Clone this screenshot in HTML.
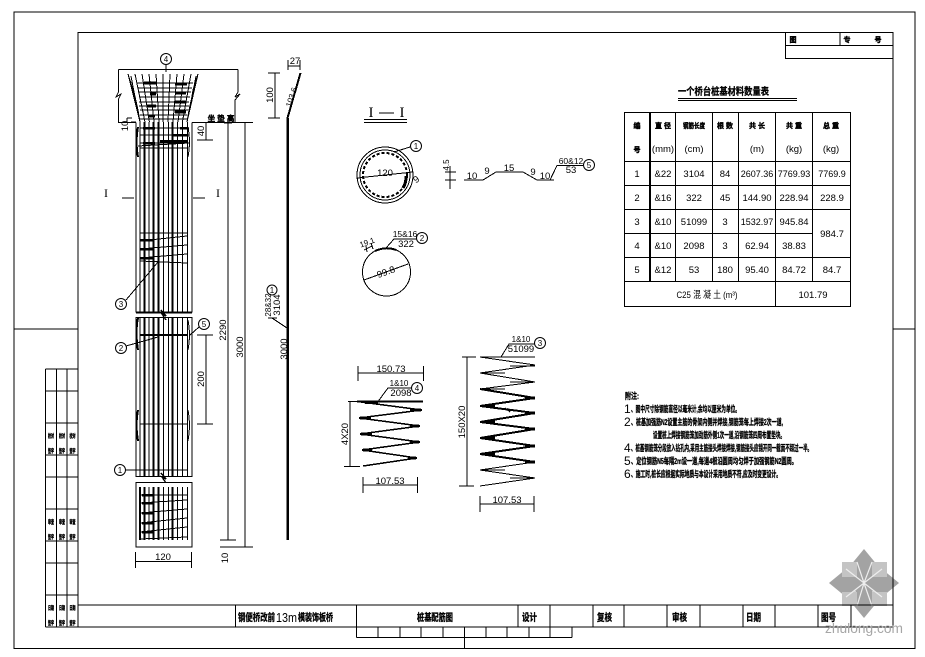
<!DOCTYPE html>
<html><head><meta charset="utf-8"><style>
html,body{margin:0;padding:0;background:#fff}
svg{display:block}
text{font-family:"Liberation Sans","Noto Sans CJK SC",sans-serif;fill:#000}
.d{font-size:9.500px;text-anchor:middle}
.h{font-size:7px;font-weight:bold;text-anchor:middle;stroke:#000;stroke-width:.4}
.n{font-size:8.500px;font-weight:bold;stroke:#000;stroke-width:.35}
.k{font-size:12px}
.c{font-size:8px;text-anchor:middle}
.s{font-size:5.500px;font-weight:bold;stroke:#000;stroke-width:.4}
</style></head><body>
<svg width="925" height="657" viewBox="0 0 925 657" xmlns="http://www.w3.org/2000/svg">
<rect width="925" height="657" fill="#fff"/>
<!-- watermark -->
<g>
<polygon points="864,549 878,566 864,590 850,566" fill="#a3a3a3"/>
<polygon points="864,618 878,601 864,577 850,601" fill="#a3a3a3"/>
<polygon points="829,583 846,569 868,583 846,597" fill="#a3a3a3"/>
<polygon points="899,583 882,569 860,583 882,597" fill="#a3a3a3"/>
<polygon points="842,562 857,562 857,577 842,577" fill="#c4c4c4"/>
<polygon points="872,562 887,562 887,577 872,577" fill="#c4c4c4"/>
<polygon points="842,592 857,592 857,606 842,606" fill="#c4c4c4"/>
<polygon points="872,592 887,592 887,606 872,606" fill="#c4c4c4"/>
<path d="M846 569L864 583L882 569M846 597L864 583L882 597M857 562L864 583L872 562M857 606L864 583L872 606" stroke="#eee" stroke-width="1.2" fill="none"/>
</g>
<g fill="none" stroke="#000" stroke-width="1" shape-rendering="crispEdges">
<!-- frames -->
<rect x="14" y="12" width="901" height="636.5"/>
<rect x="78" y="32.5" width="815" height="594.5"/>
<path d="M14 329H78M893 329H915"/>
<path d="M785.5 32.5V58.5H893M785.5 45.5H893M840 32.5V45.5"/>
<!-- left stamp -->
<path d="M45.5 369H78M45.5 391H78M45.5 423H78M45.5 455H78M45.5 477H78M45.5 509H78M45.5 541H78M45.5 563H78M45.5 595H78M45.5 627H78M45.5 369V627M56.5 369V627M67 369V627"/>
<!-- title block -->
<path d="M78 605H893"/>
<path d="M235.500 605V627M356.500 605V637.500M518 605V627M550 605V627M593 605V627M624 605V627M667 605V627M700 605V627M743 605V627M775 605V627M818 605V627M851 605V627"/>
<path d="M356.500 637.500H572M378 627V637.500M400 627V637.500M421 627V637.500M443 627V637.500M464.500 627V649M486 627V637.500M507 627V637.500M529 627V637.500M550 627V637.500M572 627V637.500"/>
<!-- column outline -->
<path d="M118.500 69.500H238M166 64V72"/>
<path d="M118.500 69.500V92L116 97L121 94L118.500 99V122.500H136M238 69.500V92L235 97L240 94L235 100V122.500M192 122.500H253"/>
<path d="M136 122.500V312.500M192 122.500V312.500M136 317.500H192V476.500H136ZM136 482.500H192V547H136Z"/>
<path d="M136 312.500H192" stroke-width="2"/>
<!-- flare -->
<path d="M128 74L140 122M135 74L145 122M142 74L149.400 122M149 74L154 122M156 74L159 122M163 74V122M170 74L168 122M177 74L173 122M184 74L178 122M191 74L182.400 122M198 74L187 122"/>
<path d="M137 83H193M138 88H192M138 92H191M139 97H190M139 102H189M139 106H189M140 110H188M140 115H187M140 119H187"/>
<path d="M131 76L134 92L138 110L140 122M196 76L193 92L189 110L187 122M128 74L133 90L137 108M198 74L193 90L190 108"/>
<path d="M144 83H156M175 84H187M175 93H186M175 102H186M147 106H156M148 116H155M175 112H186M150 94H156" stroke-width="3"/>
<!-- vertical bars -->
<path d="M140 122V312M149 122V312M163.300 122V312M168.300 122V312M177.300 122V312M182.700 122V312M187.300 122V312M140 317V476M149 317V476M163.300 317V476M168.300 317V476M177.300 317V476M182.700 317V476M187.300 317V476M149 487V540M163.300 487V540M168.300 487V540M177.300 487V540M182.700 487V540M187.300 487V540"/>
<path d="M144.300 122V312M153.300 122V312M158.300 122V312M172.700 122V312M144.300 317V476M153.300 317V476M158.300 317V476M172.700 317V476M140 487V540M144.300 487V540M153.300 487V540M158.300 487V540M172.700 487V540" stroke-width="2"/>
<!-- hoops -->
<path d="M140 128H189M140 135H189M140 143H190M138 146L189 143M140 148H187M140 233H187M140 241L187 236M140 249L187 245M140 258L187 254M140 261L187 263"/>
<path d="M143 128H155M180 128H187M172 135H187M143 143H155M160 141H187M140 240H153M140 249H153M140 258H153" stroke-width="2.500"/>
<path d="M140 335H187" stroke-width="2"/>
<path d="M140 424H187M140 470H187"/>
<path d="M140 495H187M140 503L187 500M140 513L187 509M140 523L187 518M140 532L187 527M140 539L187 537"/>
<path d="M142 495H153M142 503H153M142 513H153M142 523H153M142 532H153" stroke-width="2.500"/>
<!-- bulges -->
<path d="M138 127Q135 142 138 157M138 318Q135 332 138 350M138 410Q135 425 138 441" stroke-width="2"/>
<path d="M188 127Q191 142 188 157M188 320Q191 335 188 350M188 410Q191 425 188 441"/>
<!-- breaks -->
<path d="M161 310L166 316L162 314L166 320M161 473L166 479L162 477L166 483" stroke-width="1.500"/>
<!-- dims -->
<path d="M228 123V540M245 123V547M220 540H236M220 547H253M224 123H232"/>
<path d="M206 123V140M197 140H213M206 335V424M197 335H213M197 424H213"/>
<path d="M135.500 552V568M191.500 552V568M135.500 561.500H191.500"/>
<path d="M127 118V122M131 122H136M127 118H132"/>
<path d="M122 198H134M193 198H205"/>
<!-- leaders -->
<path d="M126 300L158 262M126 346L158 337M126 470H187M199 327L190 335"/>
<!-- side view -->
<path d="M287.500 118V540" stroke-width="2.500"/>
<path d="M287.500 118L300.500 73" stroke-width="2"/>
<path d="M275 73V118M268 73H280M268 118H280M288 66H300M288 60V70M300 60V70"/>
<path d="M272 318L287 328"/>
<path d="M268 318H277"/>
<!-- I-I -->
<path d="M364 119.500H407M364 122.500H407"/>
<circle cx="385" cy="175" r="28"/>
<circle cx="385" cy="175" r="25"/>
<circle cx="385" cy="175" r="22" stroke-dasharray="3 2" stroke-width="2"/>
<path d="M357 178L413 172M394 152L410 147"/>
<path d="M406 176A22 22 0 0 1 403 188" stroke-width="3"/>
<!-- bent bar -->
<path d="M464 180H483L496 172H523L537 180H554M550 180L557 165.500H583"/>
<path d="M450 166V189M445 172H456M445 180H456"/>
<!-- circle 2 -->
<circle cx="386.500" cy="272" r="24"/>
<path d="M364 280L408 264M386 248L394 239H417M364 250L372 246M366 246L367 252M371 243L373 249"/>
<path d="M375 251Q386 246 396 250" stroke-width="2"/>
<!-- coil 4 -->
<path d="M357 401.500H423" stroke-width="2"/>
<polyline points="357,401.500 422,410 359,418 420,426 360,434 420,442 362,450 417,458 363,466" stroke-width="1.500"/>
<path d="M365 402.500H378M410 410H421M360 418H371M410 426H419M361 434H372M410 442H419M363 450H372M408 458H416" stroke-width="3"/>
<path d="M348 401.500H358M350 401.500V466.500M344 466.500H360"/>
<path d="M358 373H423.500M358 366V381M423.500 366V381M363 485H417.500M363 477V493M417.500 477V493M378 401.500L388 388H411"/>
<!-- coil 3 -->
<polyline points="480,357 535,365 480,373 535,382 480,389"/>
<polyline points="480,389 535,398 480,406 535,413 480,422 535,429 480,438 535,446 480,454 535,462" stroke-width="2"/>
<polyline points="535,462 480,470 535,478 480,486"/>
<path d="M480 357H535M510 366H535M510 382H535M480 373H505M480 389H505M510 478H535M480 470H505"/>
<path d="M485 406H495M525 398H535M525 413H535M485 422H495M525 429H535M485 438H495M525 446H535M485 454H495M525 462H535" stroke-width="3"/>
<path d="M505 408L510 412L508 409L514 411"/>
<path d="M462 357H476M467 357V486M459 486H474M480 504H534M480 496V512M534 496V512M501 357L509 344H538"/>
<!-- table -->
<rect x="624.500" y="112.500" width="226" height="194"/>
<path d="M624.500 161.500H850.500M624.500 185.500H850.500M624.500 209.500H850.500M624.500 233.500H812M624.500 257.500H850.500M624.500 281.500H850.500"/>
<path d="M675.500 112.500V281.500M712.500 112.500V281.500M738.500 112.500V281.500M775.500 112.500V306.500M812.500 112.500V281.500"/>
<path d="M650 112.500V281.500" stroke-width="2"/>
<path d="M678 98.500H797M678 100.500H797"/>
</g>
<!-- circled labels -->
<g fill="#fff" stroke="#000" stroke-width="1">
<circle cx="166" cy="59" r="5.500"/><circle cx="121" cy="304" r="5.500"/><circle cx="121" cy="348" r="5.500"/><circle cx="204" cy="324" r="5.500"/><circle cx="120" cy="470" r="5.500"/>
<circle cx="272" cy="290" r="5"/><circle cx="416" cy="146" r="5.500"/><circle cx="589" cy="165" r="5.500"/><circle cx="422" cy="238" r="5.500"/><circle cx="417" cy="388" r="5.500"/><circle cx="540" cy="343" r="5.500"/>
</g>
<g>
<text class="c" x="166" y="62">4</text><text class="c" x="121" y="307">3</text><text class="c" x="121" y="351">2</text><text class="c" x="204" y="327">5</text><text class="c" x="120" y="473">1</text>
<text class="c" x="272" y="293">1</text><text class="c" x="416" y="149">1</text><text class="c" x="589" y="168">5</text><text class="c" x="422" y="241">2</text><text class="c" x="417" y="391">4</text><text class="c" x="540" y="346">3</text>
</g>
<!-- dims text -->
<g>
<text class="d" x="163" y="560">120</text>
<text class="d" style="font-family:'Liberation Serif',serif;font-size:12px" x="106" y="197">I</text>
<text class="d" style="font-family:'Liberation Serif',serif;font-size:12px" x="218" y="197">I</text>
<text class="d" transform="translate(128,126) rotate(-90)">10</text>
<text class="d" transform="translate(204,131) rotate(-90)">40</text>
<text class="d" transform="translate(204,379) rotate(-90)">200</text>
<text class="d" transform="translate(226,330) rotate(-90)">2290</text>
<text class="d" transform="translate(243,347) rotate(-90)">3000</text>
<text class="d" transform="translate(228,558) rotate(-90)">10</text>
<text class="d" transform="translate(273,95) rotate(-90)">100</text>
<text class="d" x="295" y="64">27</text>
<text class="d" transform="translate(294,98) rotate(-72)" style="font-size:8px">103.6</text>
<text class="d" transform="translate(271,305) rotate(-90)" style="font-size:8px">28&amp;32</text>
<text class="d" transform="translate(280,305) rotate(-90)">3104</text>
<text class="d" transform="translate(287,349) rotate(-90)">3000</text>
<text x="221" y="121" class="h" style="font-size:7.500px">坐 垫 高</text>
<text style="font-family:'Liberation Serif',serif;font-size:15px;text-anchor:middle" x="371" y="117">I</text>
<text style="font-family:'Liberation Serif',serif;font-size:15px;text-anchor:middle" x="402" y="117">I</text>
<path d="M379 113H394" stroke="#000" stroke-width="1" shape-rendering="crispEdges"/>
<text class="d" x="385" y="176">120</text>
<text class="d" transform="translate(418,182) rotate(-35)">9</text>
<text class="d" x="472" y="179">10</text><text class="d" x="487" y="174">9</text><text class="d" x="509" y="171">15</text><text class="d" x="533" y="175">9</text><text class="d" x="545" y="179">10</text>
<text class="d" x="571" y="164" style="font-size:8.500px">60&amp;12</text><text class="d" x="571" y="173">53</text>
<text class="d" transform="translate(449,165) rotate(-90)" style="font-size:8px">4.5</text>
<text class="d" x="405" y="237" style="font-size:8.500px">15&amp;16</text><text class="d" x="406" y="247">322</text>
<text class="d" transform="translate(387,275) rotate(-20)">99.8</text>
<text class="d" transform="translate(368,245) rotate(-20)" style="font-size:8px">19.1</text>
<text class="d" x="391" y="372">150.73</text>
<text class="d" x="399" y="386" style="font-size:8px">1&amp;10</text><text class="d" x="401" y="396">2098</text>
<text class="d" x="390" y="484">107.53</text>
<text class="d" transform="translate(348,434) rotate(-90)">4X20</text>
<text class="d" x="521" y="342" style="font-size:8px">1&amp;10</text><text class="d" x="521" y="352">51099</text>
<text class="d" transform="translate(465,422) rotate(-90)">150X20</text>
<text class="d" x="507" y="503">107.53</text>
</g>
<!-- table text -->
<text x="678" y="95" font-size="10" font-weight="bold" stroke="#000" stroke-width=".3" textLength="91" lengthAdjust="spacingAndGlyphs">一个桥台桩基材料数量表</text>
<g>
<text class="h" x="637" y="128">编</text><text class="h" x="637" y="152">号</text>
<text class="h" x="663" y="128">直 径</text><text class="d" x="663" y="152">(mm)</text>
<text class="h" x="694" y="128" textLength="22" lengthAdjust="spacingAndGlyphs">钢筋长度</text><text class="d" x="694" y="152">(cm)</text>
<text class="h" x="725" y="128">根 数</text>
<text class="h" x="757" y="128">共 长</text><text class="d" x="757" y="152">(m)</text>
<text class="h" x="794" y="128">共 重</text><text class="d" x="794" y="152">(kg)</text>
<text class="h" x="831" y="128">总 重</text><text class="d" x="831" y="152">(kg)</text>
</g>
<g>
<text class="d" x="637" y="177">1</text><text class="d" x="663" y="177">&amp;22</text><text class="d" x="694" y="177">3104</text><text class="d" x="725" y="177">84</text><text class="d" x="757" y="177" style="font-size:9px">2607.36</text><text class="d" x="794" y="177" style="font-size:9px">7769.93</text><text class="d" x="832" y="177" style="font-size:9px">7769.9</text>
<text class="d" x="637" y="201">2</text><text class="d" x="663" y="201">&amp;16</text><text class="d" x="694" y="201">322</text><text class="d" x="725" y="201">45</text><text class="d" x="757" y="201">144.90</text><text class="d" x="794" y="201">228.94</text><text class="d" x="832" y="201">228.9</text>
<text class="d" x="637" y="225">3</text><text class="d" x="663" y="225">&amp;10</text><text class="d" x="694" y="225">51099</text><text class="d" x="725" y="225">3</text><text class="d" x="757" y="225" style="font-size:9px">1532.97</text><text class="d" x="794" y="225">945.84</text><text class="d" x="832" y="237">984.7</text>
<text class="d" x="637" y="249">4</text><text class="d" x="663" y="249">&amp;10</text><text class="d" x="694" y="249">2098</text><text class="d" x="725" y="249">3</text><text class="d" x="757" y="249">62.94</text><text class="d" x="794" y="249">38.83</text>
<text class="d" x="637" y="273">5</text><text class="d" x="663" y="273">&amp;12</text><text class="d" x="694" y="273">53</text><text class="d" x="725" y="273">180</text><text class="d" x="757" y="273">95.40</text><text class="d" x="794" y="273">84.72</text><text class="d" x="832" y="273">84.7</text>
<text class="d" x="707" y="298" textLength="61" lengthAdjust="spacingAndGlyphs">C25 混 凝 土 (m³)</text><text class="d" x="813" y="298">101.79</text>
</g>
<!-- notes -->
<g>
<text class="n" x="625" y="399" textLength="14" lengthAdjust="spacingAndGlyphs">附注:</text>
<text class="k" x="624" y="413">1</text><text class="n" x="631" y="412" textLength="109" lengthAdjust="spacingAndGlyphs">、图中尺寸除钢筋直径以毫米计,余均以厘米为单位。</text>
<text class="k" x="624" y="426">2</text><text class="n" x="631" y="425" textLength="152" lengthAdjust="spacingAndGlyphs">、桩基加强筋N2设置主筋的骨架内侧并焊接,钢筋笼每上焊接2次一道,</text>
<text class="n" x="653" y="438" textLength="132" lengthAdjust="spacingAndGlyphs">设置桩上焊接钢筋笼加劲筋外侧1次一道,沿钢筋笼四周布置垫块。</text>
<text class="k" x="624" y="452">4</text><text class="n" x="631" y="451" textLength="181" lengthAdjust="spacingAndGlyphs">、桩基钢筋笼分段放入钻孔内,采用主筋接头焊接焊接,钢筋接头应错开同一截面不超过一半。</text>
<text class="k" x="624" y="465">5</text><text class="n" x="631" y="464" textLength="166" lengthAdjust="spacingAndGlyphs">、定位钢筋N5每隔2m设一道,每道4根沿圆周均匀焊于加强钢筋N2圆周。</text>
<text class="k" x="624" y="478">6</text><text class="n" x="631" y="477" textLength="150" lengthAdjust="spacingAndGlyphs">、施工时,桩长应根据实际地质与本设计采用地质不符,应及时变更设计。</text>
</g>
<!-- title text -->
<g>
<text class="n" x="238" y="621" style="font-size:10px" textLength="37" lengthAdjust="spacingAndGlyphs">钢便桥改前</text>
<text x="276" y="622" font-size="13" textLength="21" lengthAdjust="spacingAndGlyphs">13m</text>
<text class="n" x="298" y="621" style="font-size:10px" textLength="35" lengthAdjust="spacingAndGlyphs">模装饰板桥</text>
<text class="n" x="417" y="621" style="font-size:10px" textLength="36" lengthAdjust="spacingAndGlyphs">桩基配筋图</text>
<text class="n" x="522" y="621" style="font-size:10px" textLength="15" lengthAdjust="spacingAndGlyphs">设计</text>
<text class="n" x="597" y="621" style="font-size:10px" textLength="15" lengthAdjust="spacingAndGlyphs">复核</text>
<text class="n" x="672" y="621" style="font-size:10px" textLength="15" lengthAdjust="spacingAndGlyphs">审核</text>
<text class="n" x="746" y="621" style="font-size:10px" textLength="15" lengthAdjust="spacingAndGlyphs">日期</text>
<text class="n" x="821" y="621" style="font-size:10px" textLength="15" lengthAdjust="spacingAndGlyphs">图号</text>
<text x="825" y="633" font-size="13.500" style="fill:#a6a6a6" textLength="78" lengthAdjust="spacingAndGlyphs">zhulong.com</text>
</g>
<!-- top right + stamp text -->
<g>
<text class="h" x="793" y="42">图</text><text class="h" x="847" y="42">专</text><text class="h" x="878" y="42">号</text>
<text class="s" x="48" y="438" textLength="6" lengthAdjust="spacingAndGlyphs">校对</text><text class="s" x="59" y="438" textLength="6" lengthAdjust="spacingAndGlyphs">校对</text><text class="s" x="69.500" y="438" textLength="6" lengthAdjust="spacingAndGlyphs">校对</text>
<text class="s" x="48" y="453" textLength="6" lengthAdjust="spacingAndGlyphs">签字</text><text class="s" x="59" y="453" textLength="6" lengthAdjust="spacingAndGlyphs">签字</text><text class="s" x="69.500" y="453" textLength="6" lengthAdjust="spacingAndGlyphs">签字</text>
<text class="s" x="48" y="524" textLength="6" lengthAdjust="spacingAndGlyphs">审查</text><text class="s" x="59" y="524" textLength="6" lengthAdjust="spacingAndGlyphs">审查</text><text class="s" x="69.500" y="524" textLength="6" lengthAdjust="spacingAndGlyphs">审查</text>
<text class="s" x="48" y="539" textLength="6" lengthAdjust="spacingAndGlyphs">签字</text><text class="s" x="59" y="539" textLength="6" lengthAdjust="spacingAndGlyphs">签字</text><text class="s" x="69.500" y="539" textLength="6" lengthAdjust="spacingAndGlyphs">签字</text>
<text class="s" x="48" y="610" textLength="6" lengthAdjust="spacingAndGlyphs">日期</text><text class="s" x="59" y="610" textLength="6" lengthAdjust="spacingAndGlyphs">日期</text><text class="s" x="69.500" y="610" textLength="6" lengthAdjust="spacingAndGlyphs">日期</text>
<text class="s" x="48" y="625" textLength="6" lengthAdjust="spacingAndGlyphs">签字</text><text class="s" x="59" y="625" textLength="6" lengthAdjust="spacingAndGlyphs">签字</text><text class="s" x="69.500" y="625" textLength="6" lengthAdjust="spacingAndGlyphs">签字</text>
</g>
</svg>
</body></html>
